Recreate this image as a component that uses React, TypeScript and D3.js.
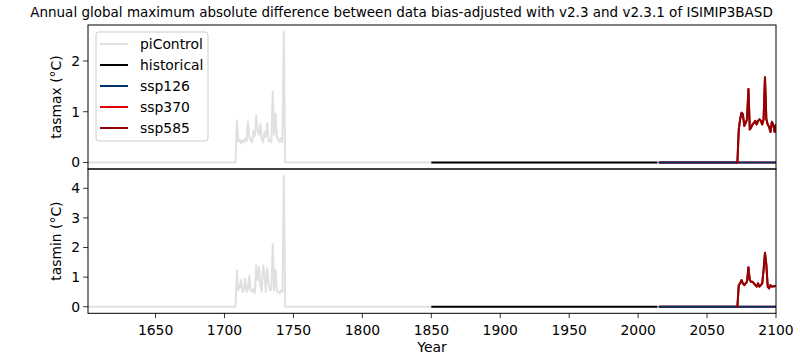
import React from "react";
import * as d3 from "d3";

// ---------- data ----------
const title =
  "Annual global maximum absolute difference between data bias-adjusted with v2.3 and v2.3.1 of ISIMIP3BASD";
const xTicks = [1650, 1700, 1750, 1800, 1850, 1900, 1950, 2000, 2050, 2100];
const tasmaxTicks = [0, 1, 2];
const tasminTicks = [0, 1, 2, 3, 4];

const piControlYears: [number, number] = [1601, 2100];
const historicalYears: [number, number] = [1850, 2014];
const sspYears: [number, number] = [2015, 2100];

// non-zero piControl episode (years 1708..1744), zero elsewhere
const piSpikeStart = 1708;
const piControlTasmaxSpike = [
  0.0, 0.83, 0.42, 0.45, 0.38, 0.44, 0.4, 0.47, 0.42, 0.8, 0.5, 0.45, 0.4, 0.62,
  0.52, 0.93, 0.62, 0.55, 0.76, 0.45, 0.4, 0.6, 0.5, 0.78, 0.42, 0.45, 0.4, 1.4,
  0.55, 0.96, 0.5, 0.45, 0.4, 0.48, 0.4, 2.58, 0.0,
];
const piControlTasminSpike = [
  0.0, 1.22, 0.55, 0.65, 0.9, 0.5, 0.55, 0.95, 0.5, 0.6, 1.05, 0.55, 0.5, 0.6,
  0.45, 1.4, 0.9, 1.35, 0.75, 0.5, 1.4, 1.1, 0.5, 1.3, 0.8, 0.55, 0.6, 2.12,
  0.55, 1.25, 0.55, 0.5, 0.45, 0.55, 0.5, 4.43, 0.0,
];

// ssp585 non-zero episode (years 2072..2100), zero before
const ssp585Start = 2072;
const ssp585Tasmax = [
  0.0, 0.65, 0.85, 0.98, 0.95, 0.72, 0.78, 0.85, 1.45, 0.65, 0.69, 0.75, 0.78,
  0.82, 0.75, 0.82, 0.85, 0.82, 0.75, 0.85, 1.68, 0.85, 0.75, 0.7, 0.6, 0.8,
  0.75, 0.6, 0.75,
];
const ssp585Tasmin = [
  0.0, 0.73, 0.79, 0.9, 0.79, 0.73, 0.79, 0.85, 1.33, 0.9, 0.84, 0.84, 0.79,
  0.73, 0.68, 0.79, 0.68, 0.73, 0.79, 1.24, 1.82, 1.42, 0.68, 0.62, 0.73, 0.68,
  0.68, 0.7, 0.7,
];

const seriesNames = ["piControl", "historical", "ssp126", "ssp370", "ssp585"];
const seriesColors = ["#e0e0e0", "#000000", "#003466", "#df0000", "#990002"];

// ---------- helpers ----------
type Pt = { x: number; y: number };
function flatSeries(range: [number, number], v = 0): Pt[] {
  return d3.range(range[0], range[1] + 1).map((x) => ({ x, y: v }));
}
function withEpisode(range: [number, number], start: number, vals: number[], base = 0): Pt[] {
  return d3.range(range[0], range[1] + 1).map((x) => {
    const i = x - start;
    return { x, y: i >= 0 && i < vals.length ? vals[i] : base };
  });
}

const W = 800;
const H = 360;
const left = 88;
const right = 776;
const panels = [
  { top: 25, bottom: 169, label: "tasmax (°C)", ticks: tasmaxTicks, spike: piControlTasmaxSpike, ssp: ssp585Tasmax },
  { top: 169, bottom: 313.3, label: "tasmin (°C)", ticks: tasminTicks, spike: piControlTasminSpike, ssp: ssp585Tasmin },
];

const FONT = "DejaVu Sans, sans-serif";
const FS = 13.9;

export default function App() {
  const x = d3.scaleLinear().domain(piControlYears).range([left, right]);

  return (
    <svg
      width={W}
      height={H}
      style={{ position: "absolute", left: 0, top: 0, background: "#fff" }}
      fontFamily={FONT}
    >
      <rect x={0} y={0} width={W} height={H} fill="#fff" />
      <text x={401.5} y={17} textAnchor="middle" fontSize={13.5}>
        {title}
      </text>
      <defs>
        {panels.map((p, i) => (
          <clipPath id={`clip${i}`} key={i}>
            <rect x={left} y={p.top} width={right - left} height={p.bottom - p.top} />
          </clipPath>
        ))}
      </defs>
      {panels.map((p, pi) => {
        const series: Pt[][] = [
          withEpisode(piControlYears, piSpikeStart, p.spike),
          flatSeries(historicalYears),
          flatSeries(sspYears),
          flatSeries(sspYears),
          withEpisode(sspYears, ssp585Start, p.ssp),
        ];
        const maxV = d3.max(series.flat(), (d) => d.y) as number;
        const pad = maxV * 0.05;
        const y = d3.scaleLinear().domain([-pad, maxV + pad]).range([p.bottom, p.top]);
        const line = d3
          .line<Pt>()
          .x((d) => x(d.x))
          .y((d) => y(d.y));
        // scenarios at zero: ssp126 drawn last so the navy shows
        const order = [0, 1, 3, 4, 2];
        return (
          <g key={pi}>
            <g clipPath={`url(#clip${pi})`}>
              {order.map((si) => (
                <path
                  key={si}
                  d={line(series[si]) || ""}
                  fill="none"
                  stroke={seriesColors[si]}
                  strokeWidth={2}
                  strokeLinejoin="round"
                />
              ))}
              {/* ssp585 episode re-drawn on top */}
              <path
                d={line(series[4].filter((d) => d.x >= ssp585Start - 1)) || ""}
                fill="none"
                stroke={seriesColors[4]}
                strokeWidth={2}
                strokeLinejoin="round"
              />
            </g>
            <rect
              x={left}
              y={p.top}
              width={right - left}
              height={p.bottom - p.top}
              fill="none"
              stroke="#000"
              strokeWidth={1}
            />
            {p.ticks.map((t) => (
              <g key={t} transform={`translate(0,${y(t)})`}>
                <line x1={left - 4.9} x2={left} stroke="#000" strokeWidth={0.8} />
                <text x={left - 8} dy="0.35em" textAnchor="end" fontSize={FS}>
                  {t}
                </text>
              </g>
            ))}
            <text
              transform={`translate(61,${(p.top + p.bottom) / 2}) rotate(-90)`}
              textAnchor="middle"
              fontSize={FS}
            >
              {p.label}
            </text>
          </g>
        );
      })}
      {/* x axis */}
      {xTicks.map((t) => (
        <g key={t} transform={`translate(${x(t)},0)`}>
          <line y1={313.3} y2={318.2} stroke="#000" strokeWidth={0.8} />
          <text y={335} textAnchor="middle" fontSize={FS}>
            {t}
          </text>
        </g>
      ))}
      <text x={(left + right) / 2} y={352} textAnchor="middle" fontSize={FS}>
        Year
      </text>
      {/* legend */}
      <g>
        <rect x={96} y={32} width={112} height={109} rx={3} fill="#fff" fillOpacity={0.8} stroke="#cccccc" strokeWidth={1} />
        {seriesNames.map((n, i) => (
          <g key={n} transform={`translate(0,${44 + i * 21})`}>
            <line x1={100} x2={128} stroke={seriesColors[i]} strokeWidth={2} />
            <text x={140} dy="0.35em" fontSize={FS}>
              {n}
            </text>
          </g>
        ))}
      </g>
    </svg>
  );
}
